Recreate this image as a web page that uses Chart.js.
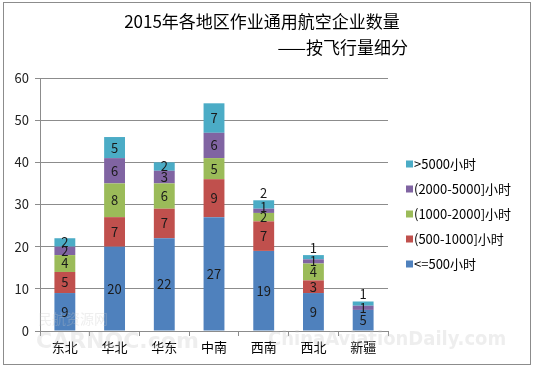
<!DOCTYPE html>
<html>
<head>
<meta charset="utf-8">
<script src="https://cdn.jsdelivr.net/npm/chart.js@4"></script>
<style>
  body { margin: 0; background: #fff; }
  #wrap { width: 534px; height: 369px; }
</style>
</head>
<body>
<div id="wrap"><canvas id="chart"></canvas></div>
<script>
const regions = ["东北", "华北", "华东", "中南", "西南", "西北", "新疆"];
const seriesNames = ["<=500小时", "(500-1000]小时", "(1000-2000]小时", "(2000-5000]小时", ">5000小时"];
const under500 = [9, 20, 22, 27, 19, 9, 5];
const h500to1000 = [5, 7, 7, 9, 7, 3, 0];
const h1000to2000 = [4, 8, 6, 5, 2, 4, 0];
const h2000to5000 = [2, 6, 3, 6, 1, 1, 1];
const over5000 = [2, 5, 2, 7, 2, 1, 1];
const yTicks = [0, 10, 20, 30, 40, 50, 60];

const colors = ["#4F81BD", "#C0504D", "#9BBB59", "#8064A2", "#4BACC6"];
const FONT = "'Noto Sans CJK SC', 'DejaVu Sans', sans-serif";
// top labels that Excel pushed above the bar
const labelAbove = [4, 5, 6];

const allSeries = [under500, h500to1000, h1000to2000, h2000to5000, over5000];

const extras = {
  id: "extras",
  afterDraw(chart) {
    const ctx = chart.ctx;
    ctx.save();

    // value labels
    ctx.font = "13px " + FONT;
    ctx.fillStyle = "#1a1a1a";
    ctx.textAlign = "center";
    ctx.textBaseline = "middle";
    chart.data.datasets.forEach((ds, di) => {
      chart.getDatasetMeta(di).data.forEach((bar, i) => {
        const v = ds.data[i];
        if (!v) return;
        let y = (bar.y + bar.base) / 2;
        if (di === 4 && labelAbove.includes(i)) y = bar.y - 7;
        if (di === 3 && i === 4) y -= 4;
        ctx.fillText(v, bar.x, y);
      });
    });

    // watermarks
    ctx.fillStyle = "rgba(200,200,200,0.3)";
    ctx.textAlign = "left";
    ctx.font = "14px " + FONT;
    ctx.fillText("民航资源网", 38, 319);
    ctx.font = "bold 22px 'DejaVu Sans'";
    ctx.fillText("CARNOC.com", 36, 342);
    ctx.font = "bold 20px 'DejaVu Sans Condensed', 'DejaVu Sans'";
    ctx.fillText("ChinaAviationDaily.com", 268, 340);

    // title
    ctx.fillStyle = "#000";
    ctx.font = "17px " + FONT;
    ctx.textAlign = "center";
    ctx.fillText("2015年各地区作业通用航空企业数量", 262, 22);
    ctx.textAlign = "right";
    ctx.fillText("——按飞行量细分", 408, 48);

    // legend
    ctx.font = "13px " + FONT;
    ctx.textAlign = "left";
    for (let k = 0; k < 5; k++) {
      const idx = 4 - k;
      const cy = 164 + k * 25;
      ctx.fillStyle = colors[idx];
      ctx.fillRect(406, cy - 3.5, 7, 7);
      ctx.fillStyle = "#000";
      ctx.fillText(seriesNames[idx], 414, cy);
    }

    // outer frame
    ctx.strokeStyle = "#8c8c8c";
    ctx.lineWidth = 1;
    ctx.strokeRect(3.5, 2.5, 527, 362);
    ctx.restore();
  }
};

new Chart(document.getElementById("chart"), {
  type: "bar",
  data: {
    labels: regions,
    datasets: allSeries.map((s, i) => ({
      label: seriesNames[i],
      data: s,
      backgroundColor: colors[i],
      borderWidth: 0,
      categoryPercentage: 1,
      barPercentage: 0.42
    }))
  },
  options: {
    responsive: true,
    maintainAspectRatio: false,
    animation: false,
    layout: { padding: { left: 3, right: 146, top: 78, bottom: 0 } },
    plugins: { legend: { display: false }, tooltip: { enabled: false } },
    scales: {
      x: {
        stacked: true,
        afterFit(s) { s.height = 38; },
        grid: { offset: true, drawOnChartArea: false, drawTicks: true, tickLength: 5, color: "#8c8c8c" },
        border: { color: "#8c8c8c" },
        ticks: { color: "#000", font: { family: FONT, size: 13 }, padding: 3 }
      },
      y: {
        stacked: true,
        min: 0,
        max: 60,
        afterFit(s) { s.width = 37; },
        afterBuildTicks(s) { s.ticks = yTicks.map(v => ({ value: v })); },
        grid: { color: "#8c8c8c", tickLength: 5 },
        border: { color: "#8c8c8c" },
        ticks: { color: "#222", font: { family: FONT, size: 13 }, padding: 6 }
      }
    }
  },
  plugins: [extras]
});
</script>
</body>
</html>
